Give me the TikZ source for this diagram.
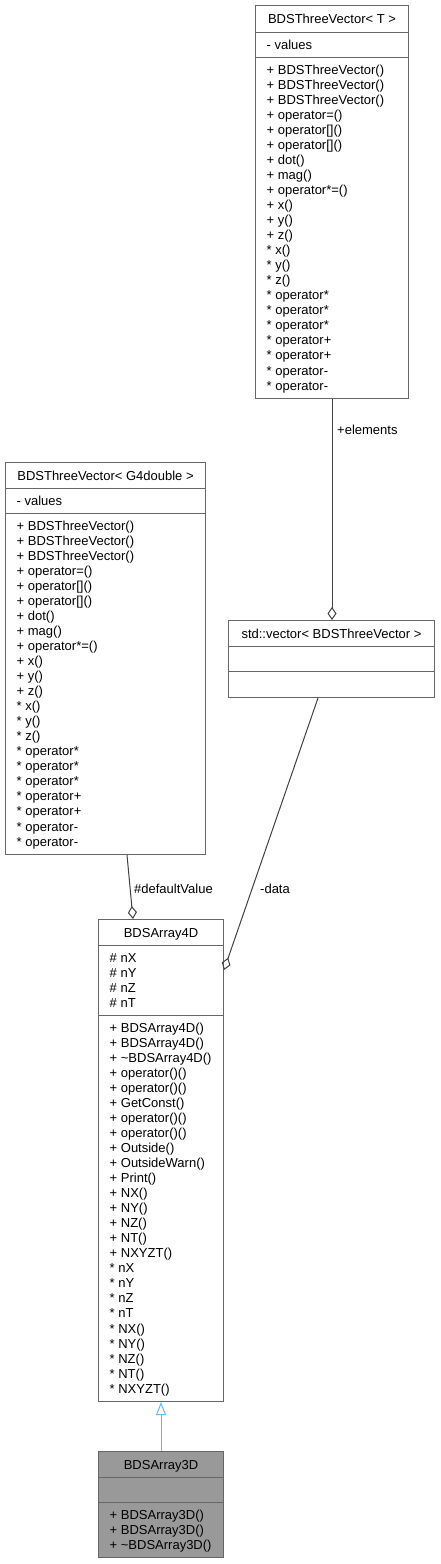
\documentclass[tikz,border=0pt]{standalone}
\usepackage{fontspec}
\setmainfont{Liberation Sans}
\usetikzlibrary{arrows.meta}
\definecolor{boxborder}{HTML}{666666}
\definecolor{edgecol}{HTML}{404040}
\definecolor{inhcol}{HTML}{63B8FF}
\definecolor{focusfill}{HTML}{999999}
\tikzset{
  cls/.style={draw=boxborder, line width=1pt, fill=white, inner sep=0pt, anchor=north west},
  focuscls/.style={cls, fill=focusfill},
  sepline/.style={draw=boxborder, line width=1pt},
  txt/.style={anchor=base west, inner sep=0pt, font=\fontsize{13}{15}\selectfont},
  ttl/.style={anchor=base, inner sep=0pt, font=\fontsize{13}{15}\selectfont},
  lbl/.style={anchor=base west, inner sep=0pt, font=\fontsize{13}{15}\selectfont},
  aggr/.style={draw=edgecol, line width=1pt, -{Diamond[open, length=13pt, width=9pt]}},
  inh/.style={draw=inhcol, line width=1pt, -{Triangle[open, length=13pt, width=10pt]}}
}
\begin{document}
\begin{tikzpicture}[x=1pt,y=-1pt]
\useasboundingbox (0,0) rectangle (440,1564);

% ---- BDSThreeVector< T >
\node[cls, minimum width=153pt, minimum height=393pt] (T) at (255,5) {};
\node[ttl] (Tt) at (T.north |- 0,23) {BDSThreeVector< T >};
\draw[sepline] (T.west |- 0,32) -- (T.east |- 0,32);
\draw[sepline] (T.west |- 0,57) -- (T.east |- 0,57);
\node[txt] (Ta) at (266.5,49) {- values};
\foreach \s [count=\i] in {+ BDSThreeVector(), + BDSThreeVector(), + BDSThreeVector(),
  + operator=(), + operator[](), + operator[](), + dot(), + mag(), + operator*=(),
  + x(), + y(), + z(), * x(), * y(), * z(), * operator*, * operator*, * operator*,
  * operator+, * operator+, * operator-, * operator-}
  \node[txt] (T-m\i) at (266.5,{74+(\i-1)*15.05}) {\s};

% ---- BDSThreeVector< G4double >
\node[cls, minimum width=200pt, minimum height=392pt] (L) at (5,462) {};
\node[ttl] (Lt) at (L.north |- 0,480) {BDSThreeVector< G4double >};
\draw[sepline] (L.west |- 0,488) -- (L.east |- 0,488);
\draw[sepline] (L.west |- 0,513) -- (L.east |- 0,513);
\node[txt] (La) at (16.5,505) {- values};
\foreach \s [count=\i] in {+ BDSThreeVector(), + BDSThreeVector(), + BDSThreeVector(),
  + operator=(), + operator[](), + operator[](), + dot(), + mag(), + operator*=(),
  + x(), + y(), + z(), * x(), * y(), * z(), * operator*, * operator*, * operator*,
  * operator+, * operator+, * operator-, * operator-}
  \node[txt] (L-m\i) at (16.5,{530+(\i-1)*15.05}) {\s};

% ---- std::vector< BDSThreeVector >
\node[cls, minimum width=206pt, minimum height=77pt] (M) at (228,620) {};
\node[ttl] (Mt) at (M.north |- 0,638) {std::vector< BDSThreeVector >};
\draw[sepline] (M.west |- 0,646) -- (M.east |- 0,646);
\draw[sepline] (M.west |- 0,671) -- (M.east |- 0,671);

% ---- BDSArray4D
\node[cls, minimum width=125pt, minimum height=482pt] (A) at (98,919) {};
\node[ttl] (At) at (A.north |- 0,937) {BDSArray4D};
\draw[sepline] (A.west |- 0,945) -- (A.east |- 0,945);
\draw[sepline] (A.west |- 0,1015) -- (A.east |- 0,1015);
\foreach \s [count=\i] in {\# nX, \# nY, \# nZ, \# nT}
  \node[txt] (A-a\i) at (109.5,{962+(\i-1)*15.05}) {\s};
\foreach \s [count=\i] in {+ BDSArray4D(), + BDSArray4D(), + \textasciitilde BDSArray4D(),
  + operator()(), + operator()(), + GetConst(), + operator()(), + operator()(),
  + Outside(), + OutsideWarn(), + Print(), + NX(), + NY(), + NZ(), + NT(), + NXYZT(),
  * nX, * nY, * nZ, * nT, * NX(), * NY(), * NZ(), * NT(), * NXYZT()}
  \node[txt] (A-m\i) at (109.5,{1032+(\i-1)*15.05}) {\s};

% ---- BDSArray3D
\node[focuscls, minimum width=125pt, minimum height=106pt] (B) at (98,1451) {};
\node[ttl] (Bt) at (B.north |- 0,1469) {BDSArray3D};
\draw[sepline] (B.west |- 0,1477) -- (B.east |- 0,1477);
\draw[sepline] (B.west |- 0,1502) -- (B.east |- 0,1502);
\foreach \s [count=\i] in {+ BDSArray3D(), + BDSArray3D(), + \textasciitilde BDSArray3D()}
  \node[txt] (B-m\i) at (109.5,{1519+(\i-1)*15.05}) {\s};

% ---- connectors
\draw[aggr] (T.south -| 332,0) -- (M.north -| 332,0);
\node[lbl] (Le) at (337,434.5) {+elements};
\draw[aggr] (L.south -| 127,0) -- (A.north -| 133,0);
\node[lbl] (Ld) at (134,893) {\#defaultValue};
\draw[aggr] (M.south -| 318,0) -- (A.east |- 0,970);
\node[lbl] (Ldata) at (260,893) {-data};
\draw[inh] (B.north) -- (A.south);
\end{tikzpicture}
\end{document}
